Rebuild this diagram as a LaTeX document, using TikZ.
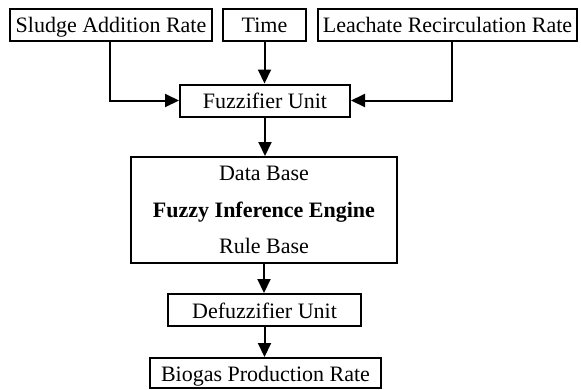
\documentclass[tikz,border=0pt]{standalone}
\usepackage{fontspec}
\setmainfont{Liberation Serif}
\usetikzlibrary{arrows.meta}
\begin{document}
\begin{tikzpicture}[x=1pt,y=-1pt,
  box/.style={draw,line width=2pt,inner sep=0pt,minimum height=32pt,text height=16pt,text depth=0pt,font=\fontsize{22}{26}\selectfont},
  conn/.style={line width=2pt,-{Triangle[length=14pt,width=13pt]}}]
\useasboundingbox (0,0) rectangle (581,389);
\node[box,minimum width=202pt] (s) at (111,24.5) {Sludge Addition Rate};
\node[box,minimum width=83pt] (t) at (264.5,24.5) {Time};
\node[box,minimum width=259pt] (l) at (447.5,24.5) {Leachate Recirculation Rate};
\node[box,minimum width=170pt] (f) at (265,100.5) {Fuzzifier Unit};
\node[draw,line width=2pt,minimum width=266pt,minimum height=106pt,font=\fontsize{22}{26}\selectfont,align=center] (e) at (264,210)
  {Data Base\\[11pt]\textbf{Fuzzy Inference Engine}\\[10pt]Rule Base};
\node[box,minimum width=193pt] (d) at (264.5,310) {Defuzzifier Unit};
\node[box,minimum width=231pt,minimum height=30pt,text height=17.4pt] (b) at (265.5,373) {Biogas Production Rate};
\draw[conn] ([xshift=-1pt]s.south) |- (f.west);
\draw[conn] ([xshift=4.5pt]l.south) |- (f.east);
\draw[conn] (t.south) -- (t.south |- f.north);
\draw[conn] (f.south) -- (f.south |- e.north);
\draw[conn] (e.south) -- (e.south |- d.north);
\draw[conn] (d.south) -- (d.south |- b.north);
\end{tikzpicture}
\end{document}
